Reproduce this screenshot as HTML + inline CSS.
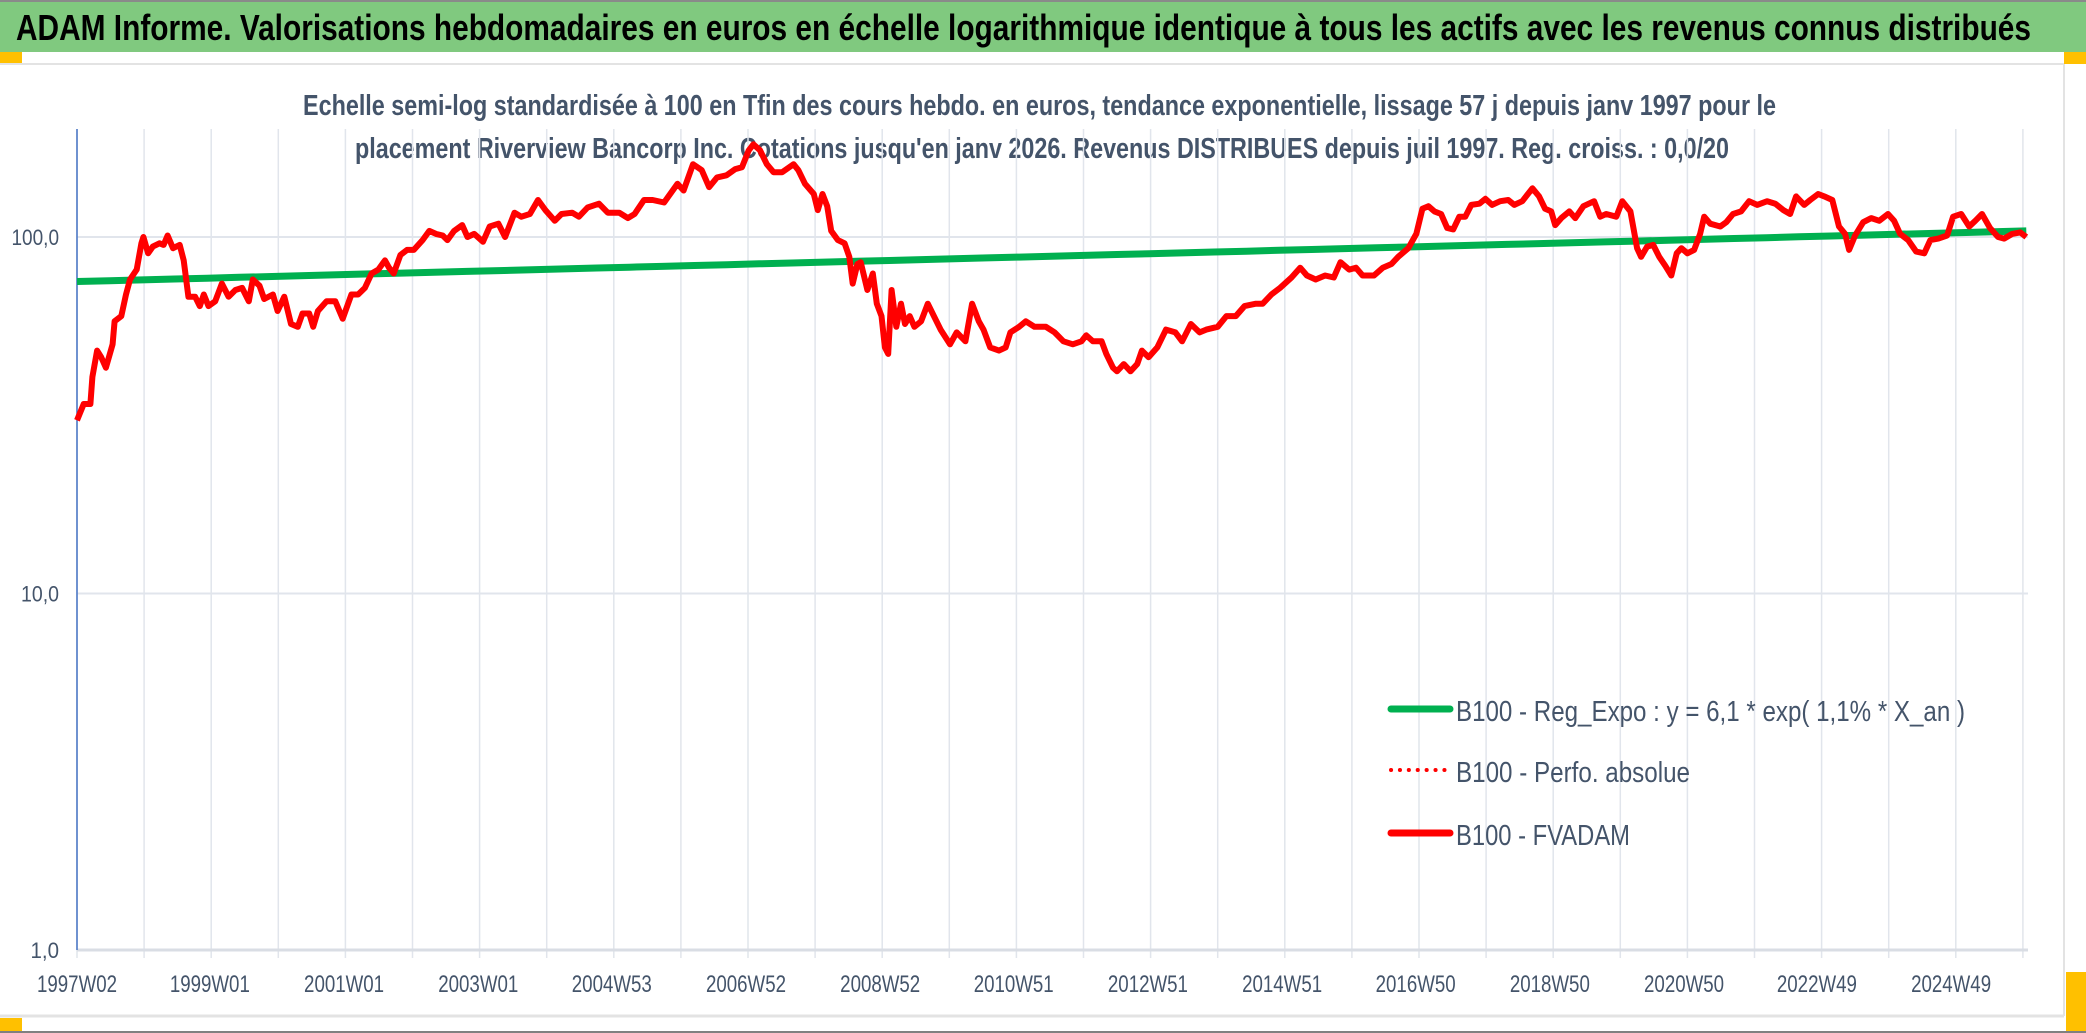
<!DOCTYPE html>
<html><head><meta charset="utf-8"><style>
html,body{margin:0;padding:0;background:#fff;}
svg{display:block;}
text{font-family:"Liberation Sans",sans-serif;}
</style></head><body>
<svg id="chart" width="2086" height="1033" viewBox="0 0 2086 1033" xmlns="http://www.w3.org/2000/svg">
<rect x="0" y="0" width="2086" height="1033" fill="#fff"/>
<rect x="0" y="0" width="2086" height="52" fill="#80c97f"/>
<line x1="0" y1="1" x2="2086" y2="1" stroke="#8a8a8a" stroke-width="2"/>
<text x="16" y="40" font-size="36" font-weight="bold" fill="#000" textLength="2015" lengthAdjust="spacingAndGlyphs">ADAM Informe. Valorisations hebdomadaires en euros en échelle logarithmique identique à tous les actifs avec les revenus connus distribués</text>
<rect x="0" y="52" width="22" height="11" fill="#ffc000"/>
<rect x="2064" y="52" width="22" height="12" fill="#ffc000"/>
<line x1="0" y1="64" x2="2064" y2="64" stroke="#e3e3e3" stroke-width="2"/>
<line x1="2064" y1="64" x2="2064" y2="1016" stroke="#e3e3e3" stroke-width="2"/>
<line x1="0" y1="1016" x2="2064" y2="1016" stroke="#e3e3e3" stroke-width="3"/>
<rect x="0" y="1018" width="22" height="13" fill="#ffc000"/>
<rect x="2066" y="972" width="20" height="59" fill="#ffc000"/>
<line x1="0" y1="1032" x2="2086" y2="1032" stroke="#808080" stroke-width="2"/>
<text x="303" y="115" font-size="29" font-weight="bold" fill="#44546a" textLength="1473" lengthAdjust="spacingAndGlyphs">Echelle semi-log standardisée à 100 en Tfin des cours hebdo. en euros, tendance exponentielle, lissage 57 j depuis janv 1997 pour le</text>
<text x="355" y="158" font-size="29" font-weight="bold" fill="#44546a" textLength="1374" lengthAdjust="spacingAndGlyphs">placement Riverview Bancorp Inc. Cotations jusqu'en janv 2026. Revenus DISTRIBUES depuis juil 1997. Reg. croiss. : 0,0/20</text>
<g id="grid"></g>
<g id="axes"></g>
<g id="series"></g>
<g>
<line x1="1391" y1="709" x2="1450" y2="709" stroke="#00b050" stroke-width="7" stroke-linecap="round"/>
<text x="1456" y="721" font-size="29" fill="#44546a" textLength="509" lengthAdjust="spacingAndGlyphs">B100 - Reg_Expo : y = 6,1 * exp( 1,1% *  X_an )</text>
<line x1="1391" y1="770" x2="1450" y2="770" stroke="#ff0000" stroke-width="4" stroke-dasharray="0.1 8.8" stroke-linecap="round"/>
<text x="1456" y="782" font-size="29" fill="#44546a" textLength="234" lengthAdjust="spacingAndGlyphs">B100 - Perfo. absolue</text>
<line x1="1391" y1="833" x2="1450" y2="833" stroke="#ff0000" stroke-width="7" stroke-linecap="round"/>
<text x="1456" y="845" font-size="29" fill="#44546a" textLength="174" lengthAdjust="spacingAndGlyphs">B100 - FVADAM</text>
</g>
</svg>
<script>
const yTicks = [1, 10, 100];
const yTickLabels = ["1,0", "10,0", "100,0"];
const xTickYears = [1997.02,1999.0,2001.0,2003.0,2004.99,2006.99,2008.99,2010.98,2012.98,2014.98,2016.97,2018.97,2020.97,2022.95,2024.95];
const xTickLabels = ["1997W02","1999W01","2001W01","2003W01","2004W53","2006W52","2008W52","2010W51","2012W51","2014W51","2016W50","2018W50","2020W50","2022W49","2024W49"];
const regDates = [1997.02, 2026.07];
const regValues = [75, 104];
const fvDates = [1997.02,1997.12,1997.22,1997.25,1997.32,1997.38,1997.45,1997.55,1997.58,1997.68,1997.75,1997.81,1997.91,1997.98,1998.01,1998.08,1998.15,1998.25,1998.31,1998.37,1998.45,1998.55,1998.61,1998.68,1998.78,1998.85,1998.91,1998.98,1999.08,1999.18,1999.28,1999.38,1999.48,1999.58,1999.64,1999.74,1999.81,1999.94,2000.01,2000.11,2000.21,2000.31,2000.38,2000.48,2000.54,2000.61,2000.74,2000.87,2000.98,2001.11,2001.21,2001.31,2001.41,2001.51,2001.61,2001.67,2001.74,2001.84,2001.94,2002.04,2002.17,2002.27,2002.37,2002.47,2002.54,2002.64,2002.76,2002.84,2002.94,2003.07,2003.17,2003.30,2003.40,2003.54,2003.64,2003.77,2003.89,2004.00,2004.14,2004.24,2004.40,2004.50,2004.63,2004.80,2004.93,2005.10,2005.23,2005.33,2005.47,2005.60,2005.77,2005.97,2006.06,2006.20,2006.33,2006.44,2006.56,2006.70,2006.83,2006.93,2007.03,2007.10,2007.20,2007.30,2007.40,2007.53,2007.70,2007.77,2007.87,2008.00,2008.06,2008.13,2008.20,2008.26,2008.36,2008.46,2008.53,2008.58,2008.65,2008.70,2008.80,2008.88,2008.94,2009.01,2009.06,2009.11,2009.16,2009.23,2009.30,2009.36,2009.43,2009.50,2009.60,2009.70,2009.79,2009.89,2010.03,2010.13,2010.26,2010.36,2010.46,2010.53,2010.63,2010.76,2010.86,2010.93,2011.06,2011.16,2011.29,2011.46,2011.59,2011.72,2011.86,2011.99,2012.06,2012.16,2012.29,2012.36,2012.46,2012.52,2012.62,2012.72,2012.82,2012.89,2012.99,2013.12,2013.25,2013.39,2013.49,2013.62,2013.75,2013.85,2014.02,2014.15,2014.29,2014.42,2014.59,2014.69,2014.82,2014.95,2015.12,2015.25,2015.35,2015.48,2015.62,2015.75,2015.85,2015.98,2016.08,2016.18,2016.35,2016.48,2016.61,2016.71,2016.86,2016.98,2017.07,2017.16,2017.25,2017.35,2017.44,2017.53,2017.62,2017.71,2017.80,2017.92,2018.01,2018.11,2018.23,2018.35,2018.44,2018.56,2018.71,2018.81,2018.90,2018.99,2019.05,2019.14,2019.26,2019.35,2019.47,2019.63,2019.72,2019.81,2019.96,2020.05,2020.17,2020.27,2020.33,2020.42,2020.51,2020.60,2020.69,2020.78,2020.86,2020.93,2021.02,2021.12,2021.21,2021.27,2021.36,2021.51,2021.60,2021.70,2021.82,2021.94,2022.06,2022.21,2022.33,2022.45,2022.55,2022.64,2022.76,2022.85,2022.97,2023.06,2023.18,2023.28,2023.37,2023.43,2023.52,2023.64,2023.76,2023.88,2024.01,2024.10,2024.19,2024.31,2024.43,2024.55,2024.64,2024.76,2024.89,2024.98,2025.10,2025.22,2025.31,2025.41,2025.53,2025.65,2025.74,2025.86,2025.98,2026.07];
const fvValues = [30.6,34,34,40.5,48,46,43,50,58,60,69,76,81,96,100,90,94,96,95,101,93,95,86,68,68,64,69,64,66,74,68,71,72,66,76,73,67,69,62,68,57,56,61,61,56,62,66,66,59,69,69,72,79,81,86,82,79,89,92,92,98,104,102,101,98,104,108,100,102,97,107,109,100,117,114,116,127,119,111,116,117,114,121,124,117,117,113,116,127,127,125,141,135,160,154,138,147,149,155,157,175,182,175,160,152,152,160,154,141,132,119,132,122,104,98,96,88,74,84,85,71,79,65,60,49,47,71,56,65,57,60,56,58,65,60,55,50,54,51,65,58,55,49,48,49,54,56,58,56,56,54,51,50,51,53,51,51,47,43,42,44,42,44,48,46,49,55,54,51,57,54,55,56,60,60,64,65,65,69,72,77,82,78,76,78,77,85,81,82,78,78,82,84,88,93,102,120,122,118,116,106,105,114,114,123,124,128,123,126,127,123,126,137,130,120,118,108,113,118,113,122,126,114,116,114,126,118,93,88,94,95,88,83,78,90,93,90,92,102,114,109,107,110,116,118,126,123,126,124,119,116,130,123,127,132,130,127,107,102,92,101,110,113,111,116,111,102,98,91,90,98,99,101,114,116,107,111,116,106,100,99,102,103,100];

const NS = "http://www.w3.org/2000/svg";
const X0 = 77, PX_PER_YEAR = 67.1, YEAR0 = 1997.02;
const Y_BOTTOM = 950, PX_PER_DECADE = 356.5, Y_TOP = 129;
function xScale(year){ return X0 + (year - YEAR0) * PX_PER_YEAR; }
function yScale(v){ return Y_BOTTOM - Math.log10(v) * PX_PER_DECADE; }
function mk(tag, attrs, parent){
  const el = document.createElementNS(NS, tag);
  for (const k in attrs) el.setAttribute(k, attrs[k]);
  parent.appendChild(el);
  return el;
}
const grid = document.getElementById('grid');
const axes = document.getElementById('axes');
const series = document.getElementById('series');

for (let k = 0; k <= 29; k++) {
  const x = X0 + k * PX_PER_YEAR;
  if (x > 2026) break;
  const g = mk('line', {x1:x, y1:Y_TOP, x2:x, y2:958, stroke:'#e1e5ec', 'stroke-width':1.5}, grid);
  
  
}
yTicks.forEach((v, i) => {
  const y = yScale(v);
  const l = mk('line', {x1:X0, y1:y, x2:2028, y2:y, stroke: i===0 ? '#d9dde4' : '#e1e5ec', 'stroke-width': i===0 ? 3 : 2}, grid);
  
  
  const t = mk('text', {x:59, y:y+8, 'font-size':22, fill:'#44546a', 'text-anchor':'end', textLength: yTickLabels[i].length*9.5, lengthAdjust:'spacingAndGlyphs'}, axes);
  t.textContent = yTickLabels[i];
  
  
});
const ya = mk('line', {x1:X0, y1:Y_TOP, x2:X0, y2:Y_BOTTOM, stroke:'#4472c4', 'stroke-width':1.5}, axes);


xTickYears.forEach((yr, i) => {
  const t = mk('text', {x:xScale(yr), y:992, 'font-size':24, fill:'#44546a', 'text-anchor':'middle', textLength:80, lengthAdjust:'spacingAndGlyphs'}, axes);
  t.textContent = xTickLabels[i];
  
  
});
let d = '';
const N = 60;
for (let i = 0; i <= N; i++) {
  const yr = regDates[0] + (regDates[1] - regDates[0]) * i / N;
  const lv = Math.log10(regValues[0]) + (Math.log10(regValues[1]) - Math.log10(regValues[0])) * i / N;
  d += (i ? 'L' : 'M') + xScale(yr).toFixed(1) + ',' + yScale(Math.pow(10, lv)).toFixed(1);
}
const reg = mk('path', {d:d, fill:'none', stroke:'#00b050', 'stroke-width':7}, series);


let d2 = '';
fvDates.forEach((yr, i) => {
  d2 += (i ? 'L' : 'M') + xScale(yr).toFixed(1) + ',' + yScale(fvValues[i]).toFixed(1);
});
const fv = mk('path', {d:d2, fill:'none', stroke:'#ff0000', 'stroke-width':6, 'stroke-linejoin':'round'}, series);


</script>
</body></html>
